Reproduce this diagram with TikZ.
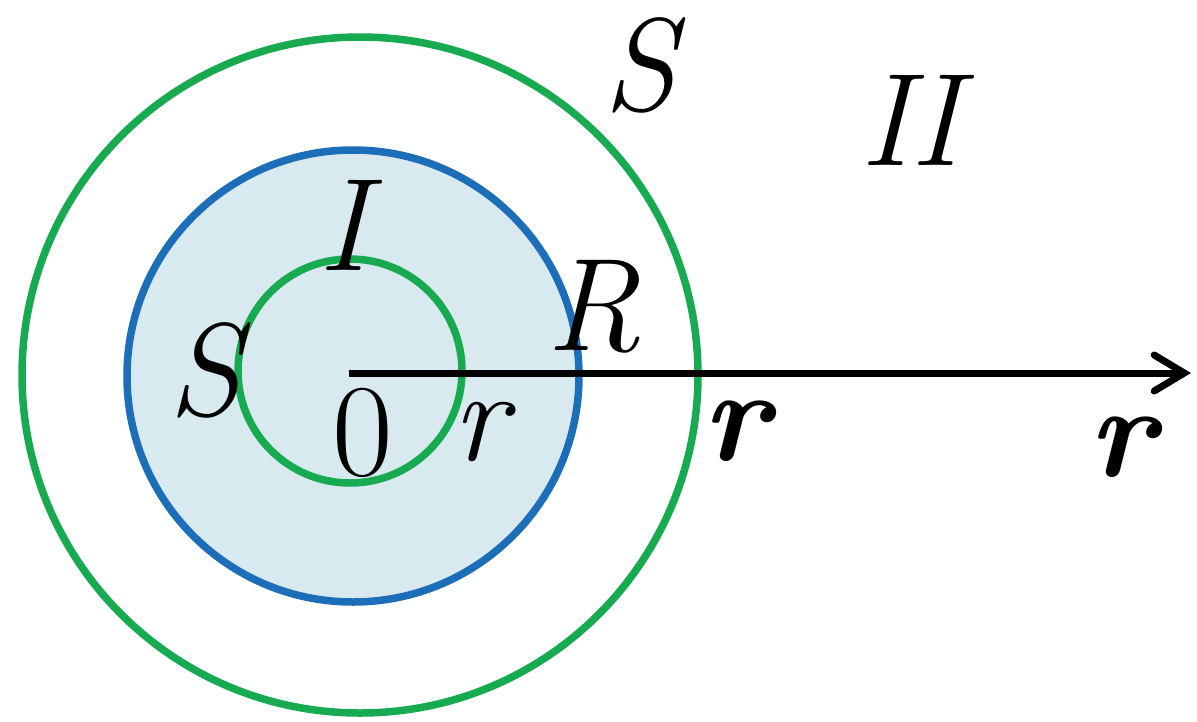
\documentclass[tikz,border=0pt]{standalone}
\usetikzlibrary{arrows.meta}
\definecolor{ringgreen}{RGB}{24,170,80}
\definecolor{ringblue}{RGB}{28,110,185}
\definecolor{diskfill}{RGB}{216,234,239}
\begin{document}
\begin{tikzpicture}[x=1pt,y=-1pt,
  ring/.style={line width=7.5pt},
  lbl/.style={inner sep=0pt,anchor=base,font=\fontsize{132}{140}\selectfont\itshape},
  lblb/.style={inner sep=0pt,anchor=base,font=\fontsize{132}{140}\selectfont\bfseries\itshape},
  lblu/.style={inner sep=0pt,anchor=base,font=\fontsize{132}{140}\selectfont}]
\useasboundingbox (0,0) rectangle (1197,721);
\fill[white] (0,0) rectangle (1197,721);
% circles
\draw[ring,ringgreen] (360,375) circle[radius=338];
\filldraw[ring,draw=ringblue,fill=diskfill] (353,376) circle[radius=226];
\draw[ring,ringgreen] (350,371) circle[radius=112];
% axis
\coordinate (o) at (349,373);
\coordinate (tip) at (1191,373);
\draw[line width=7pt,-{Straight Barb[length=30pt,width=36pt,line cap=round]}] (o) -- (tip);
% labels
\node[lbl] (Stop) at (640,110) {S};
\node[lbl] (II) at (910,165) {II};
\node[lbl] (I) at (343,270) {I};
\node[lbl] (R) at (594,350) {R};
\node[lbl] (Sleft) at (205,415) {S};
\node[lblu] (zero) at (363,475) {0};
\node[lbl] (r1) at (480,460) {r};
\node[lblb] (r2) at (736,460) {r};
\node[lblb] (r3) at (1122,476) {r};
\end{tikzpicture}
\end{document}
